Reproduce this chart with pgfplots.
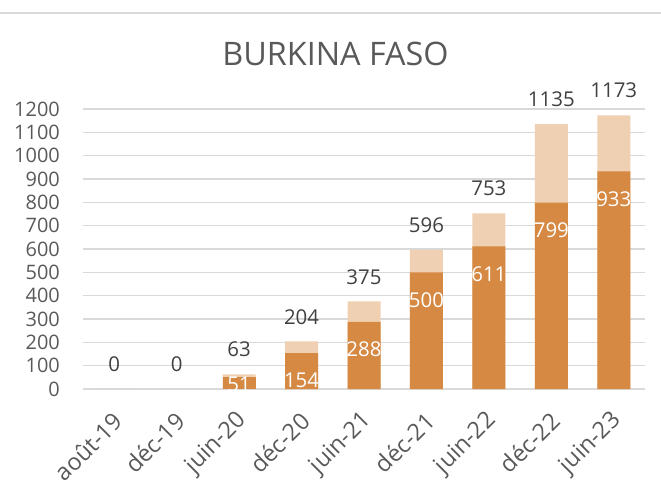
\documentclass[border=0pt]{standalone}
\usepackage{fontspec}
\setmainfont{Open Sans}
\usepackage{pgfplots}
\pgfplotsset{compat=1.18}
\definecolor{cDark}{HTML}{D58943}
\definecolor{cLight}{HTML}{EFD0B2}
\definecolor{cGrid}{HTML}{D9D9D9}
\definecolor{cTick}{HTML}{595959}
\definecolor{cLab}{HTML}{404040}
\begin{document}
\begin{tikzpicture}
\useasboundingbox (0bp,0bp) rectangle (661bp,501bp);
\draw[cGrid, line width=1.2bp] (0bp,488bp) -- (661bp,488bp);
\node[text=cTick, font=\fontsize{32.5}{38}\selectfont, anchor=base, inner sep=0pt] at (335.5bp,435bp) {BURKINA FASO};
\begin{axis}[
  at={(83bp,112bp)}, anchor=south west,
  scale only axis, width=562bp, height=280bp,
  ybar, bar shift=0pt, bar width=33bp,
  xmin=-0.5, xmax=8.5, ymin=0, ymax=1200,
  ytick={0,100,...,1200},
  xtick={0,...,8},
  xticklabels={août-19,déc-19,juin-20,déc-20,juin-21,déc-21,juin-22,déc-22,juin-23},
  axis line style={draw=none},
  major tick length=0pt,
  ymajorgrids, grid style={cGrid, line width=1.2bp},
  tick label style={font=\fontsize{20}{24}\selectfont, text=cTick},
  yticklabel style={inner sep=0pt, anchor=east, xshift=-23bp},
  xticklabel style={xshift=4bp, yshift=-28bp, rotate=45, anchor=east, inner sep=0pt, font=\fontsize{23.5}{26}\selectfont},
  /pgf/number format/assume math mode=true,
  /pgf/number format/1000 sep={},
  clip=false,
]
% totals (light part drawn full height)
\addplot[fill=cLight, draw=none, nodes near coords,
  every node near coord/.append style={anchor=south, inner sep=0pt, yshift=17bp, text=cLab, font=\fontsize{20.5}{24}\selectfont}]
  coordinates {(0,0) (1,0) (2,63) (3,204) (4,375) (5,596) (6,753) (7,1135) (8,1173)};
% dark part
\addplot[fill=cDark, draw=none, nodes near coords,
  every node near coord/.append style={anchor=north, inner sep=0pt, yshift=-20bp, text=white, font=\fontsize{20.5}{24}\selectfont}]
  coordinates {(3,154) (4,288) (5,500) (6,611) (7,799) (8,933)};
\addplot[fill=cDark, draw=none, nodes near coords,
  every node near coord/.append style={anchor=north, inner sep=0pt, yshift=0bp, text=white, font=\fontsize{20.5}{24}\selectfont}]
  coordinates {(2,51)};
\end{axis}
\end{tikzpicture}
\end{document}
